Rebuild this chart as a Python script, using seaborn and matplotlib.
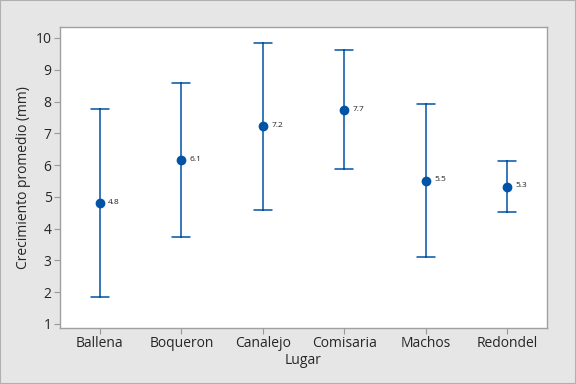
import matplotlib
matplotlib.use("Agg")
import matplotlib.pyplot as plt
import seaborn as sns
import pandas as pd

# interval plot values
lugares = ["Ballena", "Boqueron", "Canalejo", "Comisaria", "Machos", "Redondel"]
medias = [4.80, 6.15, 7.22, 7.74, 5.51, 5.32]
inferior = [1.84, 3.73, 4.58, 5.87, 3.10, 4.52]
superior = [7.76, 8.58, 9.83, 9.61, 7.92, 6.12]
etiquetas = ["4.8", "6.1", "7.2", "7.7", "5.5", "5.3"]

azul = "#0054a6"

sns.set_style("white")
plt.rcParams["font.family"] = ["Open Sans", "DejaVu Sans"]

# long table: lower / mean / upper per place; median gives the mean, range gives the interval
rows = []
for lug, lo, m, hi in zip(lugares, inferior, medias, superior):
    for v in (lo, m, hi):
        rows.append({"Lugar": lug, "valor": v})
df = pd.DataFrame(rows)

fig = plt.figure(figsize=(5.76, 3.84), dpi=100, facecolor="#e6e6e6")
ax = fig.add_axes([0.104, 0.146, 0.846, 0.784])

sns.pointplot(data=df, x="Lugar", y="valor", order=lugares,
              estimator="median", errorbar=lambda x: (x.min(), x.max()),
              linestyle="none", color=azul, markers="o", markersize=5,
              capsize=0.22, err_kws={"linewidth": 1.1}, ax=ax)

for i, (m, t) in enumerate(zip(medias, etiquetas)):
    ax.annotate(t, (i, m), xytext=(6, 0.5), textcoords="offset points",
                fontsize=6, va="center", ha="left", color="#222222")

ax.set_xlim(-0.49, 5.49)
ax.set_ylim(0.87, 10.35)
ax.set_yticks(range(1, 11))
ax.set_xlabel("Lugar", fontsize=10, labelpad=1)
ax.set_ylabel("Crecimiento promedio (mm)", fontsize=10, labelpad=3)
ax.tick_params(axis="both", labelsize=10, length=4, color="#999999",
               left=True, bottom=True, direction="out", pad=2)
for s in ax.spines.values():
    s.set_color("#a0a0a0")
    s.set_linewidth(1)

# thin frame round the figure
fig.patches.append(plt.Rectangle((0, 0), 1, 1, transform=fig.transFigure,
                                 fill=False, edgecolor="#b0b0b0", linewidth=1.5))

fig.savefig("out.png", dpi=100, facecolor=fig.get_facecolor())
